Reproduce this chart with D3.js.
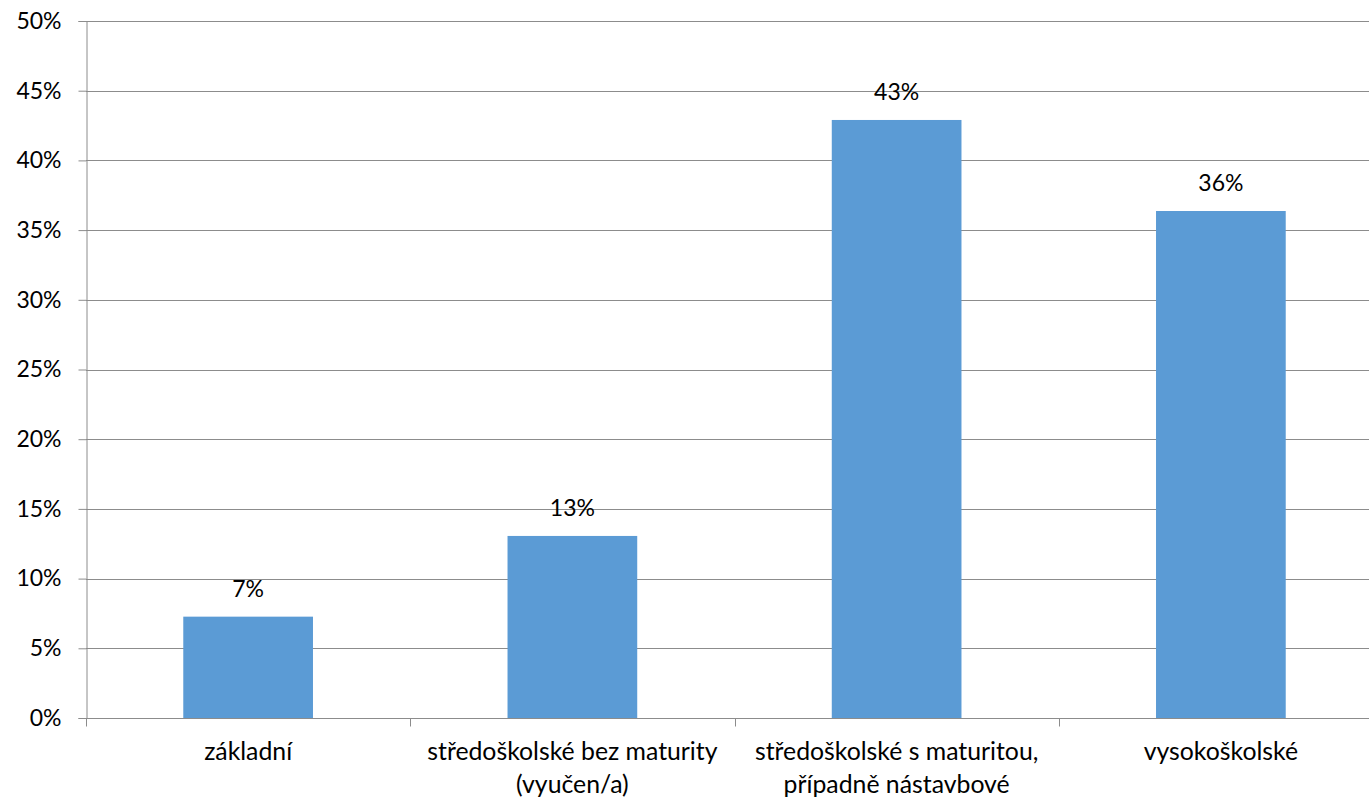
<!DOCTYPE html>
<html><head><meta charset="utf-8">
<script src="https://cdn.jsdelivr.net/npm/d3@7"></script>
<style>body{margin:0;background:#fff;overflow:hidden}svg{display:block}</style>
</head><body>
<script>
const categories = [["základní"], ["středoškolské bez maturity", "(vyučen/a)"], ["středoškolské s maturitou,", "případně nástavbové"], ["vysokoškolské"]];
const values = [7.27, 13.06, 42.9, 36.37];
const valueLabels = ["7%", "13%", "43%", "36%"];
const yTicks = [0, 5, 10, 15, 20, 25, 30, 35, 40, 45, 50];

const W = 1369, H = 800;
const FONT = "Lato, 'Open Sans', sans-serif";
const svg = d3.select("body").append("svg").attr("width", W).attr("height", H);

const x = d3.scaleBand().domain(d3.range(categories.length)).range([86, 1383]).padding(0);
const y = d3.scaleLinear().domain([0, 50]).range([718, 21]);

// gridlines
svg.append("g").selectAll("line").data(yTicks.filter(d => d > 0)).join("line")
  .attr("x1", 86).attr("x2", W).attr("y1", d => Math.round(y(d)) + 0.5).attr("y2", d => Math.round(y(d)) + 0.5)
  .attr("stroke", "#8c8c8c").attr("stroke-width", 1);

// y axis
const yAxis = d3.axisLeft(y).tickValues(yTicks).tickFormat(d => d + "%").tickSize(8).tickPadding(17);
const gy = svg.append("g").attr("transform", "translate(86.5,0)").call(yAxis);
gy.select(".domain").attr("stroke", "#8c8c8c");
gy.selectAll(".tick line").attr("stroke", "#8c8c8c");
gy.selectAll(".tick text").attr("font-family", FONT).attr("font-size", 23).attr("fill", "#000");

// bars
const bw = x.bandwidth() * 0.4;
svg.append("g").selectAll("rect").data(values).join("rect")
  .attr("x", (d, i) => x(i) + x.bandwidth() / 2 - bw / 2)
  .attr("width", bw)
  .attr("y", d => y(d))
  .attr("height", d => y(0) - y(d))
  .attr("fill", "#5B9BD5");

// x axis
const gx = svg.append("g").attr("transform", "translate(0,718.5)");
gx.append("line").attr("x1", 86).attr("x2", W).attr("stroke", "#8c8c8c");
gx.selectAll(".tk").data(d3.range(categories.length + 1)).join("line")
  .attr("x1", i => Math.round(86 + i * x.step()) + 0.5).attr("x2", i => Math.round(86 + i * x.step()) + 0.5)
  .attr("y1", 0).attr("y2", 8).attr("stroke", "#8c8c8c");

const labels = svg.append("g").selectAll("text").data(categories).join("text")
  .attr("text-anchor", "middle").attr("font-family", FONT).attr("font-size", 24.8).attr("fill", "#000");
labels.each(function(lines, i) {
  const t = d3.select(this);
  lines.forEach((ln, j) => {
    t.append("tspan").attr("x", x(i) + x.bandwidth() / 2).attr("y", 760 + j * 33).text(ln);
  });
});

// value labels
svg.append("g").selectAll("text").data(values).join("text")
  .attr("x", (d, i) => x(i) + x.bandwidth() / 2)
  .attr("y", d => y(d) - 20)
  .attr("text-anchor", "middle").attr("font-family", FONT).attr("font-size", 23).attr("fill", "#000")
  .text((d, i) => valueLabels[i]);
</script>
</body></html>
